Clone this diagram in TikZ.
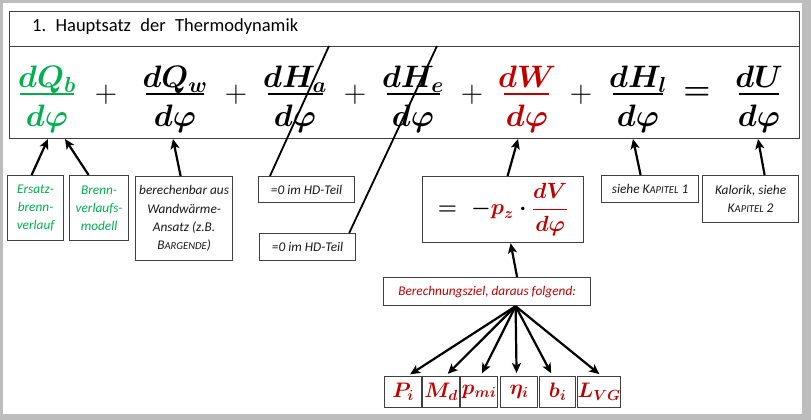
\RequirePackage{fix-cm}
\documentclass[tikz,border=0pt]{standalone}
\usepackage{amsmath}
\usepackage[no-math]{fontspec}
\setmainfont{Carlito}
\usetikzlibrary{arrows.meta}
\definecolor{xgreen}{HTML}{00B050}
\definecolor{xred}{HTML}{C00000}
\definecolor{boxgray}{HTML}{404040}
\definecolor{framegray}{HTML}{BDBDBD}
\newcommand{\sck}[1]{{\fontsize{10.6}{18.3}\selectfont #1}}
\begin{document}
\begin{tikzpicture}[x=1pt,y=-1pt,
  box/.style={draw=boxgray, line width=1.2pt, inner sep=0pt, anchor=north west},
  note/.style={font=\fontsize{13.3}{18.3}\selectfont\itshape, align=center, text=black!90},
  arr/.style={-{Stealth[length=10pt,width=9pt,inset=2.5pt]}, line width=2.2pt},
  slash/.style={line width=1.8pt},
  big/.style={anchor=base, inner sep=0pt, font=\fontsize{31}{36}\selectfont\boldmath},
  op/.style={inner sep=0pt, font=\fontsize{31}{36}\selectfont},
  bar/.style={line width=2pt},
  res/.style={box, minimum width=37pt, minimum height=31pt, text=xred, font=\fontsize{21}{24}\selectfont\boldmath},
]
\useasboundingbox (0,0) rectangle (811,420);
\fill[framegray] (0,0) rectangle (811,420);
\fill[white] (3,3) rectangle (802,414);

% main box
\node[box, minimum width=790pt, minimum height=35pt] (titlebox) at (9,11) {};
\node[box, minimum width=790pt, minimum height=92pt] (formbox) at (9,46) {};
\node[anchor=base west, inner sep=0pt, font=\fontsize{18.5}{20}\selectfont] (title) at (32,31.5)
  {\frenchspacing\makebox[266pt][s]{1. Hauptsatz der Thermodynamik}};

% fractions
\node[big, text=xgreen] (nQb) at (47,88) {$dQ_b$};
\draw[bar, xgreen] (20,93.5) -- (74,93.5);
\node[big, text=xgreen] (dQb) at (47,126) {$d\varphi$};

\node[op] (p1) at (106,95) {$+$};

\node[big] (nQw) at (175,88) {$dQ_w$};
\draw[bar] (146,93.5) -- (204,93.5);
\node[big] (dQw) at (175,126) {$d\varphi$};

\node[op] (p2) at (236,95) {$+$};

\node[big] (nHa) at (295,88) {$dH_a$};
\draw[bar] (268,93.5) -- (323,93.5);
\node[big] (dHa) at (295,126) {$d\varphi$};

\node[op] (p3) at (355,95) {$+$};

\node[big] (nHe) at (413,88) {$dH_e$};
\draw[bar] (387,93.5) -- (440,93.5);
\node[big] (dHe) at (413,126) {$d\varphi$};

\node[op] (p4) at (472,95) {$+$};

\node[big, text=xred] (nW) at (527,88) {$dW$};
\draw[bar, xred] (504,93.5) -- (549,93.5);
\node[big, text=xred] (dW) at (527,126) {$d\varphi$};

\node[op] (p5) at (581,95) {$+$};

\node[big] (nHl) at (638,88) {$dH_l$};
\draw[bar] (613,93.5) -- (663,93.5);
\node[big] (dHl) at (638,126) {$d\varphi$};

\node[op, font=\fontsize{31}{36}\selectfont\boldmath] (eq) at (697,94) {$=$};

\node[big] (nU) at (759,88) {$dU$};
\draw[bar] (739,93.5) -- (779,93.5);
\node[big] (dU) at (759,126) {$d\varphi$};

% boxes below
\node[box, note, text=xgreen, minimum width=56pt, minimum height=65pt] (ersatz) at (7,175) {Ersatz-\\brenn-\\verlauf};
\node[box, note, text=xgreen, minimum width=59pt, minimum height=65pt] (brenn) at (69,175) {Brenn-\\verlaufs-\\modell};
\node[box, note, minimum width=97pt, minimum height=84pt] (berech) at (135,176) {berechenbar aus\\Wandw\"arme-\\Ansatz (z.B.\\B\sck{ARGENDE})};
\node[box, note, minimum width=96pt, minimum height=26pt] (hd1) at (258,176) {=0 im HD-Teil};
\node[box, note, minimum width=96pt, minimum height=27pt] (hd2) at (259,233) {=0 im HD-Teil};
\node[box, minimum width=161pt, minimum height=66pt, font=\fontsize{22}{26}\selectfont\boldmath] (wbox) at (422,176)
  {$=\hspace{7pt}{-}\textcolor{xred}{p_z}\cdot\textcolor{xred}{\dfrac{dV}{d\varphi}}$};
\node[box, note, minimum width=97pt, minimum height=27pt] (siehe) at (601,175) {siehe K\sck{APITEL} 1};
\node[box, note, minimum width=96pt, minimum height=47pt] (kalorik) at (702,175) {Kalorik, siehe\\K\sck{APITEL} 2};
\node[box, note, text=xred, minimum width=207pt, minimum height=28pt] (ziel) at (383,277) {Berechnungsziel, daraus folgend:};

\node[res] (Pi) at (384,376) {$P_i$};
\node[res] (Md) at (422,376) {$M_d$};
\node[res] (pmi) at (460,376) {$p_{mi}$};
\node[res] (eta) at (500,376) {$\eta_i$};
\node[res, minimum width=36pt] (bi) at (539,376) {$b_i$};
\node[res] (LVG) at (577,376) {$L_{VG}$};

% strike-through lines
\coordinate (s1top) at (329,46);
\coordinate (s2top) at (437,46);
\draw[slash] ([xshift=12pt]hd1.north west) -- (s1top);
\draw[slash] ([xshift=-7pt]hd2.north east) -- (s2top);

% arrow tips at the formula box
\coordinate (tQb1) at (48,139);
\coordinate (tQb2) at (65,139);
\coordinate (tQw) at (173,139);
\coordinate (tW) at (518,139);
\coordinate (tHl) at (633,139);
\coordinate (tU) at (758,139);

\draw[arr] ([xshift=-4pt]ersatz.north) -- (tQb1);
\draw[arr] ([xshift=-10.5pt]brenn.north) -- (tQb2);
\draw[arr] ([xshift=-3.5pt]berech.north) -- (tQw);
\draw[arr] ([xshift=4.5pt]wbox.north) -- (tW);
\draw[arr] ([xshift=-9.5pt]siehe.north) -- (tHl);
\draw[arr] ([xshift=14pt]kalorik.north) -- (tU);
\draw[arr] ([xshift=30pt]ziel.north) -- ([xshift=7.5pt]wbox.south);

\coordinate (fan) at ([xshift=28.5pt]ziel.south);
\draw[arr, shorten >=3pt] (fan) -- ([xshift=4.5pt]Pi.north);
\draw[arr, shorten >=3pt] (fan) -- ([xshift=4.5pt]Md.north);
\draw[arr, shorten >=3pt] (fan) -- ([xshift=1.5pt]pmi.north);
\draw[arr, shorten >=3pt] (fan) -- ([xshift=-2.5pt]eta.north);
\draw[arr, shorten >=3pt] (fan) -- ([xshift=-5pt]bi.north);
\draw[arr, shorten >=3pt] (fan) -- ([xshift=2.5pt]LVG.north);
\end{tikzpicture}
\end{document}
